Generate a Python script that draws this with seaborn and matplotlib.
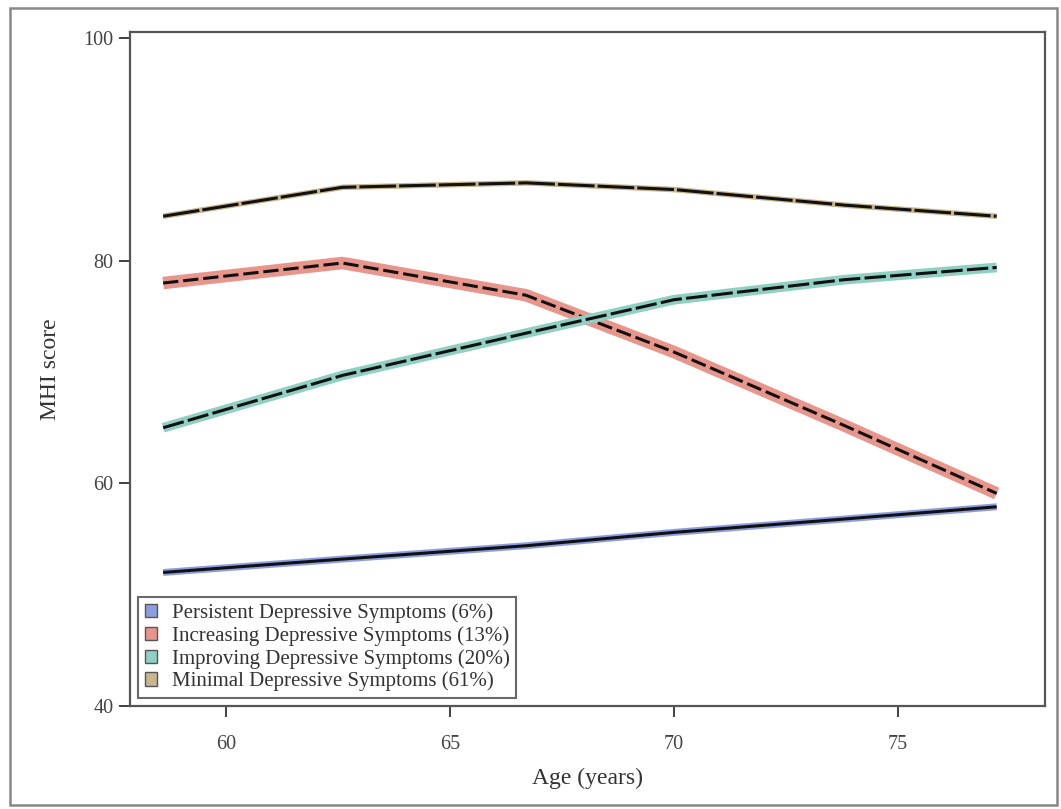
import numpy as np
import pandas as pd
import seaborn as sns
import matplotlib.pyplot as plt
from matplotlib.patches import Patch, Rectangle

# values
ages = [58.6, 62.6, 66.7, 70.0, 73.8, 77.2]
persistent = [52.0, 53.2, 54.4, 55.6, 56.8, 57.9]
increasing = [78.0, 79.8, 76.9, 71.8, 65.2, 59.1]
improving = [65.0, 69.7, 73.5, 76.5, 78.3, 79.4]
minimal = [84.0, 86.6, 87.0, 86.4, 85.0, 84.0]

groups = ["Persistent Depressive Symptoms (6%)",
          "Increasing Depressive Symptoms (13%)",
          "Improving Depressive Symptoms (20%)",
          "Minimal Depressive Symptoms (61%)"]
band_colors = ["#8d9de0", "#e8968c", "#90d0c2", "#c9b58e"]
band_widths = [5, 9, 7, 4]
dash_styles = [(1, 0), (5, 1.6), (7, 1.4), (12, 1.0)]

df = pd.DataFrame({
    "age": ages * 4,
    "mhi": persistent + increasing + improving + minimal,
    "group": [g for g in groups for _ in ages],
})

sns.set_style("ticks")
plt.rcParams["font.family"] = ["Liberation Serif", "DejaVu Serif"]

fig = plt.figure(figsize=(10.61, 8.09), dpi=100)
ax = fig.add_axes([0.1225, 0.1273, 0.8625, 0.8331])

for g, c, w, d in zip(groups, band_colors, band_widths, dash_styles):
    sub = df[df.group == g]
    sns.lineplot(data=sub, x="age", y="mhi", color=c, lw=w, ax=ax,
                 solid_capstyle="butt")
    sns.lineplot(data=sub, x="age", y="mhi", color="#111111", lw=2.2, ax=ax,
                 dashes=False, linestyle=(0, d))

ax.set_xlim(57.86, 78.28)
ax.set_ylim(40, 100.55)
ax.set_xticks([60, 65, 70, 75])
ax.set_yticks([40, 60, 80, 100])
ax.tick_params(labelsize=14.5, colors="#333333", length=8, width=1.3,
               labelcolor="#444444")
ax.tick_params(axis="x", pad=13)
ax.tick_params(axis="y", pad=4)
for s in ax.spines.values():
    s.set_color("#555555")
    s.set_linewidth(1.6)
ax.set_xlabel("Age (years)", fontsize=17, color="#333333", labelpad=10)
ax.set_ylabel("MHI score", fontsize=17, color="#333333", labelpad=16)

handles = [Patch(facecolor=c, edgecolor="#555555", lw=1) for c in band_colors]
leg = ax.legend(handles, groups, loc="lower left", fontsize=15,
                frameon=True, fancybox=False, borderpad=0.3,
                handlelength=0.6, handleheight=0.6, handletextpad=0.7,
                labelspacing=0.15, borderaxespad=0.4)
leg.get_frame().set_edgecolor("#444444")
leg.get_frame().set_linewidth(1.5)
for t in leg.get_texts():
    t.set_color("#333333")

# outer frame around the graph
fig.patches.append(Rectangle((0.009, 0.005), 0.987, 0.985, transform=fig.transFigure,
                             fill=False, edgecolor="#888888", lw=1.8))

fig.savefig("out.png", dpi=100)
